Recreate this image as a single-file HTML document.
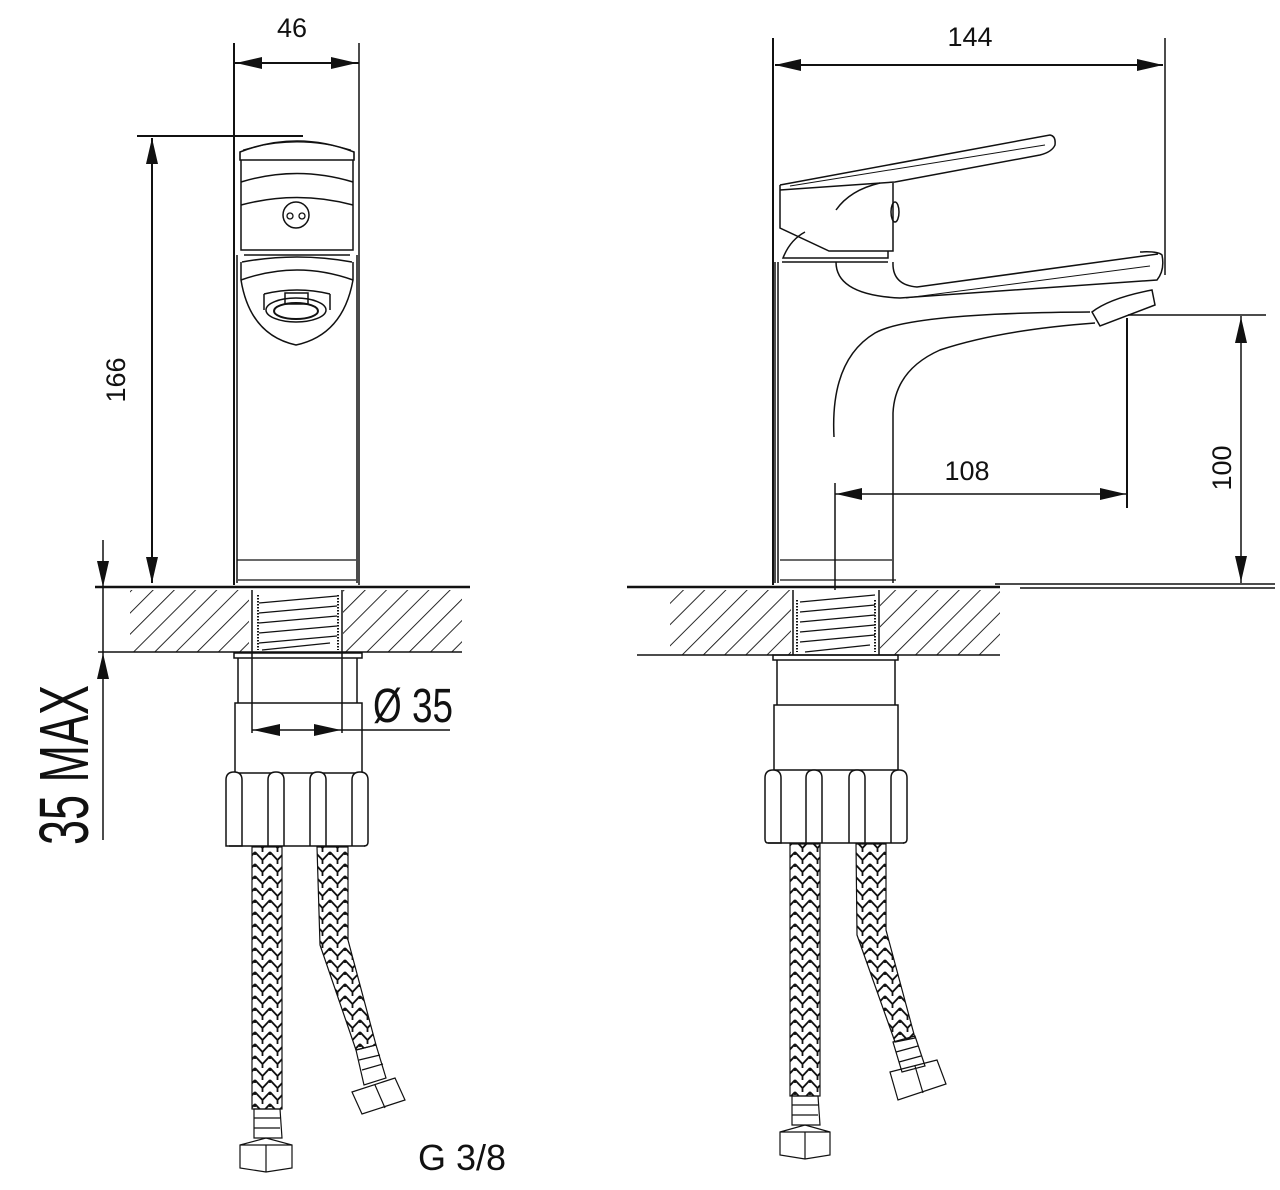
<!DOCTYPE html>
<html><head><meta charset="utf-8"><style>html,body{margin:0;padding:0;background:#fff}svg{display:block}text{font-family:"Liberation Sans",sans-serif;fill:#111}</style></head>
<body>
<svg width="1280" height="1190" viewBox="0 0 1280 1190" xmlns="http://www.w3.org/2000/svg">
<defs>
<pattern id="hatch" patternUnits="userSpaceOnUse" width="15" height="15" patternTransform="rotate(45)">
<line x1="0" y1="0" x2="0" y2="15" stroke="#111" stroke-width="1.8"/></pattern>
<pattern id="braid" patternUnits="userSpaceOnUse" width="15" height="12">
<path d="M0 0 L7.5 8 L15 0 M0 12 L7.5 20 L15 12 M0 -12 L7.5 -4 L15 -12 M7.5 8 L7.5 12 M0 0 L0 3 M15 0 L15 3" fill="none" stroke="#111" stroke-width="1.8"/></pattern>
</defs>
<g fill="none" stroke="#111" stroke-width="2">

<!-- ===== LEFT VIEW ===== -->
<line x1="234" y1="43" x2="234" y2="585"/>
<line x1="359" y1="43" x2="359" y2="585" stroke-width="1.5"/>
<line x1="234" y1="63" x2="359" y2="63"/>
<line x1="137" y1="136" x2="303" y2="136"/>
<line x1="152" y1="138" x2="152" y2="583"/>
<path d="M240 152 Q297 130 354 152 L354 160 L240 160 Z" stroke-width="1.6"/>
<path d="M243 150 Q297 134 351 150" stroke-width="1"/>
<path d="M241 160 L241 180 M353 160 L353 180" stroke-width="1.5"/>
<path d="M241 182 Q297 165 353 182" stroke-width="1.5"/>
<path d="M241 180 L241 250 L353 250 L353 180" stroke-width="1.5"/>
<path d="M241 205 Q297 190 353 205" stroke-width="1.5"/>
<circle cx="296" cy="215" r="13" stroke-width="1.5"/>
<circle cx="290" cy="216" r="3" stroke-width="1.3"/>
<circle cx="302" cy="216" r="3" stroke-width="1.3"/>
<path d="M244 255 L350 255 M242 262 Q297 252 352 262" stroke-width="1.5"/>
<path d="M241 262 L241 280 Q250 335 296 345 Q343 335 353 280 L353 262" stroke-width="1.5"/>
<path d="M241 280 Q297 260 353 280" stroke-width="1.5"/>
<path d="M264 294 L264 310 M330 294 L330 310 M264 294 Q297 286 330 294" stroke-width="1.5"/>
<rect x="285" y="293" width="23" height="11" stroke-width="1.5"/>
<ellipse cx="296" cy="310" rx="30" ry="12" stroke-width="1.5"/>
<ellipse cx="296" cy="311" rx="22" ry="8" stroke-width="2"/>
<path d="M237 255 L237 583 M357 255 L357 583" stroke-width="1.5"/>
<path d="M237 560 L356 560 M238 580 L356 580" stroke-width="1.2"/>
<line x1="95" y1="587" x2="470" y2="587" stroke-width="2.4"/>
<rect x="130" y="590" width="119" height="62" fill="url(#hatch)" stroke="none"/>
<rect x="343" y="590" width="119" height="62" fill="url(#hatch)" stroke="none"/>
<line x1="98" y1="652" x2="462" y2="652" stroke-width="1.5"/>
<path d="M252 590 L252 652 M342 590 L342 652" stroke-width="1.5"/>
<path d="M258 595 L258 650 M338 595 L338 650" stroke-width="2" stroke-dasharray="1.5 1.5"/>
<path d="M259 603 L337 596 M259 613 L337 606 M259 623 L337 616 M259 633 L337 626 M259 643 L337 636 M262 650 L330 643" stroke-width="1.3"/>
<line x1="103" y1="540" x2="103" y2="840" stroke-width="1.5"/>
<rect x="234" y="653" width="128" height="5" stroke-width="1.5"/>
<path d="M238 658 L238 703 M357 658 L357 703" stroke-width="1.5"/>
<rect x="235" y="703" width="127" height="70" stroke-width="1.5"/>
<path d="M226 780 Q226 772 234 772 Q242 772 242 780 L242 846 L226 846 Q226 846 226 840 Z" stroke-width="1.5" fill="#fff"/>
<path d="M268 846 L268 780 Q268 772 276 772 Q284 772 284 780 L284 846" stroke-width="1.5" fill="#fff"/>
<path d="M310 846 L310 780 Q310 772 318 772 Q326 772 326 780 L326 846" stroke-width="1.5" fill="#fff"/>
<path d="M352 846 L352 780 Q352 772 360 772 Q368 772 368 780 L368 842 Q368 846 364 846" stroke-width="1.5" fill="#fff"/>
<path d="M229 846 L365 846" stroke-width="1.5"/>
<path d="M252 652 L252 733 M342 652 L342 733" stroke-width="1.5"/>
<line x1="252" y1="730" x2="450" y2="730" stroke-width="1.5"/>
<rect x="252" y="847" width="30" height="262" fill="url(#braid)" stroke-width="1.2"/>
<path d="M254 1109 L280 1109 L282 1138 L254 1138 Z M254 1118 L280 1118 M254 1128 L280 1128" stroke-width="1.2"/>
<path d="M240 1145 L266 1138 L292 1145 L292 1168 L266 1172 L240 1168 Z M266 1145 L266 1172 M240 1145 L292 1145" stroke-width="1.2"/>
<path d="M317 847 L348 847 L348 940 L376 1045 L356 1050 L320 945 Z" fill="url(#braid)" stroke-width="1.2"/>
<path d="M356 1050 L376 1045 L386 1078 L364 1085 Z M359 1060 L380 1055 M362 1070 L383 1064" stroke-width="1.2"/>
<path d="M352 1092 L395 1078 L405 1100 L362 1114 Z M375 1085 L385 1108" stroke-width="1.2"/>

<!-- ===== RIGHT VIEW ===== -->
<line x1="773" y1="38" x2="773" y2="585"/>
<line x1="1165" y1="38" x2="1165" y2="275" stroke-width="1.5"/>
<line x1="775" y1="65" x2="1163" y2="65"/>
<path d="M780 185 L1050 135 Q1056 136 1055 145 Q1052 152 1040 155 L895 182 L780 190" stroke-width="1.5"/>
<path d="M790 186 L1045 145" stroke-width="1"/>
<path d="M780 185 L780 228 L829 251 L893 251 L893 183" stroke-width="1.5"/>
<path d="M836 210 Q850 190 880 183" stroke-width="1.5"/>
<ellipse cx="895" cy="212" rx="4" ry="10" stroke-width="1.5"/>
<path d="M805 232 Q790 240 783 258 L888 258 L888 251" stroke-width="1.5"/>
<line x1="782" y1="262" x2="888" y2="262" stroke-width="1.5"/>
<path d="M775 262 L775 583 M778 262 L778 583" stroke-width="1.5"/>
<path d="M893 262 Q892 285 917 287 L1158 254" stroke-width="1.5"/>
<path d="M836 262 Q836 295 900 298 L1157 280 Q1165 270 1162 255 Q1158 251 1140 252" stroke-width="1.5"/>
<path d="M906 298 L1150 266" stroke-width="1"/>
<path d="M834 437 Q830 360 875 333 Q910 313 1090 312" stroke-width="1.5"/>
<path d="M893 583 L893 413 Q895 370 940 350 Q1000 330 1095 323" stroke-width="1.5"/>
<path d="M1092 312 Q1110 298 1152 290 L1155 305 L1100 326 Z" stroke-width="1.5"/>
<path d="M780 560 L892 560 M780 580 L896 580" stroke-width="1.2"/>
<line x1="835" y1="483" x2="835" y2="590" stroke-width="1.5"/>
<line x1="1127" y1="318" x2="1127" y2="508"/>
<line x1="835" y1="494" x2="1127" y2="494" stroke-width="1.5"/>
<line x1="1128" y1="315" x2="1266" y2="315" stroke-width="1.5"/>
<line x1="1241" y1="316" x2="1241" y2="583" stroke-width="1.5"/>
<line x1="627" y1="587" x2="1000" y2="587" stroke-width="2.4"/>
<line x1="995" y1="584" x2="1275" y2="584" stroke-width="1.5"/>
<line x1="1020" y1="588" x2="1275" y2="588" stroke-width="1.5"/>
<rect x="670" y="590" width="121" height="65" fill="url(#hatch)" stroke="none"/>
<rect x="880" y="590" width="120" height="65" fill="url(#hatch)" stroke="none"/>
<line x1="637" y1="655" x2="1000" y2="655" stroke-width="1.5"/>
<path d="M793 590 L793 655 M879 590 L879 655" stroke-width="1.5"/>
<path d="M797 600 L797 652 M875 600 L875 652" stroke-width="2" stroke-dasharray="1.5 1.5"/>
<path d="M800 602 L875 595 M800 612 L875 605 M800 622 L875 615 M800 632 L875 625 M800 642 L875 635 M805 652 L870 645" stroke-width="1.3"/>
<rect x="773" y="655" width="125" height="5" stroke-width="1.5"/>
<path d="M777 660 L777 705 M895 660 L895 705" stroke-width="1.5"/>
<rect x="774" y="705" width="124" height="65" stroke-width="1.5"/>
<path d="M765 778 Q765 770 773 770 Q781 770 781 778 L781 843 L768 843 Q765 843 765 839 Z" stroke-width="1.5" fill="#fff"/>
<path d="M806 843 L806 778 Q806 770 814 770 Q822 770 822 778 L822 843" stroke-width="1.5" fill="#fff"/>
<path d="M849 843 L849 778 Q849 770 857 770 Q865 770 865 778 L865 843" stroke-width="1.5" fill="#fff"/>
<path d="M891 843 L891 778 Q891 770 899 770 Q907 770 907 778 L907 839 Q907 843 903 843" stroke-width="1.5" fill="#fff"/>
<path d="M768 843 L904 843" stroke-width="1.5"/>
<rect x="790" y="844" width="30" height="252" fill="url(#braid)" stroke-width="1.2"/>
<path d="M792 1096 L818 1096 L820 1125 L792 1125 Z M792 1105 L818 1105 M792 1115 L818 1115" stroke-width="1.2"/>
<path d="M780 1132 L805 1125 L830 1132 L830 1155 L805 1159 L780 1155 Z M805 1132 L805 1159 M780 1132 L830 1132" stroke-width="1.2"/>
<path d="M856 844 L886 844 L886 930 L915 1038 L895 1042 L857 935 Z" fill="url(#braid)" stroke-width="1.2"/>
<path d="M893 1042 L915 1036 L925 1066 L902 1072 Z M896 1052 L918 1046 M899 1062 L921 1056" stroke-width="1.2"/>
<path d="M890 1072 L937 1060 L946 1084 L898 1100 Z M915 1066 L923 1093" stroke-width="1.2"/>
</g>

<g fill="#111">
<path d="M236 63 L262 57 L262 69 Z"/><path d="M357 63 L331 57 L331 69 Z"/>
<path d="M152 138 L146 164 L158 164 Z"/><path d="M152 583 L146 557 L158 557 Z"/>
<path d="M103 587 L97 561 L109 561 Z"/><path d="M103 653 L97 679 L109 679 Z"/>
<path d="M253 730 L280 724 L280 736 Z"/><path d="M341 730 L314 724 L314 736 Z"/>
<path d="M775 65 L801 59 L801 71 Z"/><path d="M1163 65 L1137 59 L1137 71 Z"/>
<path d="M836 494 L862 488 L862 500 Z"/><path d="M1126 494 L1100 488 L1100 500 Z"/>
<path d="M1241 317 L1235 343 L1247 343 Z"/><path d="M1241 582 L1235 556 L1247 556 Z"/>
</g>

<text x="292" y="37" font-size="27" text-anchor="middle">46</text>
<text x="970" y="46" font-size="27" text-anchor="middle">144</text>
<text x="967" y="480" font-size="27" text-anchor="middle">108</text>
<text transform="translate(125,380) rotate(-90)" font-size="27" text-anchor="middle">166</text>
<text transform="translate(1231,468) rotate(-90)" font-size="27" text-anchor="middle">100</text>
<text transform="translate(88,765) rotate(-90)" font-size="70" text-anchor="middle" textLength="160" lengthAdjust="spacingAndGlyphs">35 MAX</text>
<text x="373" y="722" font-size="48" textLength="80" lengthAdjust="spacingAndGlyphs">Ø 35</text>
<text x="418" y="1170" font-size="36">G 3/8</text>
</svg>
</body></html>
